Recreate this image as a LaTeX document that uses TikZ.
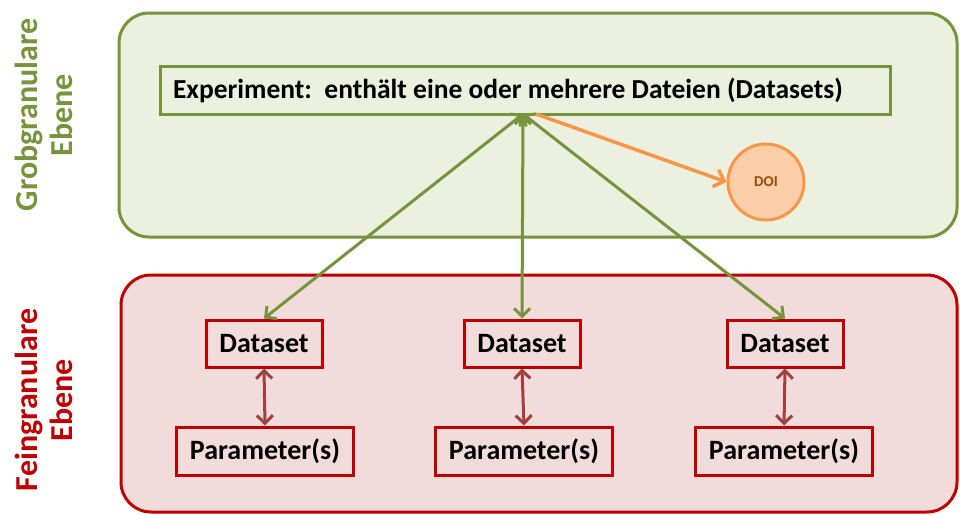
\documentclass[tikz,border=0pt]{standalone}
\usepackage{fontspec}
\setmainfont{Carlito}
\usetikzlibrary{arrows.meta}
\definecolor{grnline}{HTML}{77933C}
\definecolor{grnfill}{HTML}{EBF0DF}
\definecolor{redline}{HTML}{C00000}
\definecolor{redfill}{HTML}{F2DCDB}
\definecolor{brnred}{HTML}{A0413F}
\definecolor{orline}{HTML}{F79646}
\definecolor{orfill}{HTML}{FBCDA8}
\definecolor{doitext}{HTML}{984807}
\tikzset{
  x=1pt, y=-1pt,
  level/.style={rounded corners=30pt, line width=3pt},
  expbox/.style={draw=grnline, fill=grnfill, line width=3pt, text width=704pt, align=flush left, inner xsep=13pt, minimum height=48pt, inner ysep=0pt, font=\fontsize{27.5}{30}\selectfont\bfseries},
  dsbox/.style={draw=redline, line width=3pt, minimum width=116pt, minimum height=47pt, inner sep=0pt, font=\fontsize{28}{30}\selectfont\bfseries},
  pbox/.style={draw=redline, line width=3pt, minimum width=177pt, minimum height=48pt, inner sep=0pt, font=\fontsize{28}{30}\selectfont\bfseries},
  garrow/.style={draw=grnline, line width=3pt, {Straight Barb[length=8pt,width=16pt]}-{Straight Barb[length=8pt,width=16pt]}},
  rarrow/.style={draw=brnred, line width=3pt, {Straight Barb[length=8pt,width=16pt]}-{Straight Barb[length=8pt,width=16pt]}},
  oarrow/.style={draw=orline, line width=3.5pt, -{Straight Barb[length=9pt,width=18pt]}},
  sidelabel/.style={rotate=90, align=center, font=\fontsize{32}{35}\selectfont\bfseries}
}
\begin{document}
\begin{tikzpicture}
\useasboundingbox (0,0) rectangle (960,514);
\fill[white] (0,0) rectangle (960,514);
% level boxes
\draw[level, draw=grnline, fill=grnfill] (119,13) rectangle (957,237);
\draw[level, draw=redline, fill=redfill] (121,275) rectangle (957,512);
% side labels
\node[sidelabel, text=grnline] (grob) at (44,115) {Grobgranulare\\Ebene};
\node[sidelabel, text=redline] (fein) at (44,400) {Feingranulare\\Ebene};
% experiment
\node[expbox] (exp) at (525,90) {Experiment:\ \ enthält eine oder mehrere Dateien (Datasets)};
\coordinate (hub) at (523,114);
\coordinate (hubo) at (536,114);
% DOI
\node[circle, draw=orline, fill=orfill, line width=3pt, minimum size=76pt, inner sep=0pt, text=doitext, font=\fontsize{15}{17}\selectfont\bfseries] (doi) at (766,182) {DOI};
% datasets
\node[dsbox] (d1) at (264,343.5) {Dataset};
\node[dsbox] (d2) at (522,343.5) {Dataset};
\node[dsbox] (d3) at (785,343.5) {Dataset};
\node[pbox] (p1) at (265,451) {Parameter(s)};
\node[pbox] (p2) at (524,451) {Parameter(s)};
\node[pbox] (p3) at (784,451) {Parameter(s)};
% connectors
\draw[garrow] (hub) -- (d1.north);
\draw[garrow] (hub) -- (d2.north);
\draw[garrow] (hub) -- (d3.north);
\draw[oarrow] (hubo) -- (doi.west);
\draw[rarrow] (d1.south) -- (p1.north);
\draw[rarrow] (d2.south) -- (p2.north);
\draw[rarrow] (d3.south) -- (p3.north);
\end{tikzpicture}
\end{document}
